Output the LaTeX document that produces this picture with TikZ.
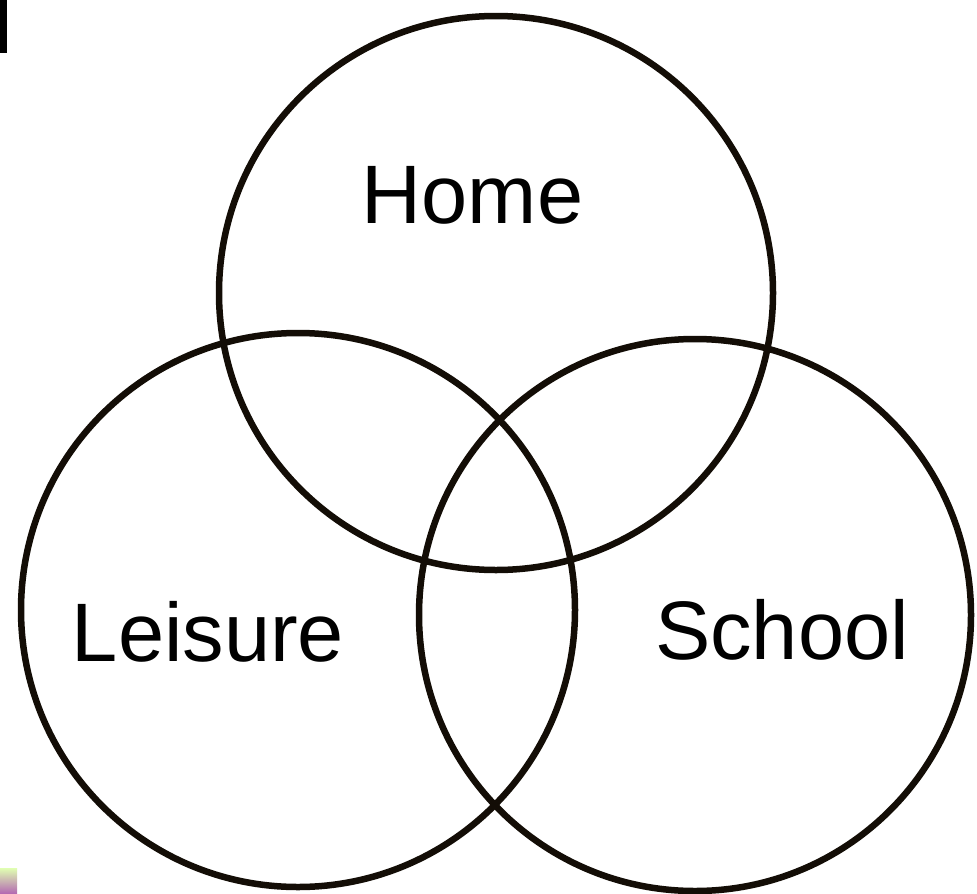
\documentclass[tikz,border=0pt]{standalone}
\usepackage{fontspec}
\setmainfont{Liberation Sans}
\begin{document}
\begin{tikzpicture}[x=1pt,y=-1pt,
  ring/.style={draw=black!90!brown, line width=6.5pt},
  label/.style={font=\fontsize{83}{85}\selectfont, anchor=base, inner sep=0pt}]
\useasboundingbox (0,0) rectangle (977,894);
\fill[white] (0,0) rectangle (977,894);
\draw[ring] (496,293) circle (277);
\draw[ring] (298,610) circle (277);
\draw[ring] (695,615) circle (276);
\node[label] (home) at (472.5,223) {Home};
\node[label] (leisure) at (208,661) {Leisure};
\node[label] (school) at (782,659) {School};
\fill[black] (0,0) rectangle (7,53);
\shade[top color=yellow!60!green!30, bottom color=violet!60] (0,868) rectangle (17,894);
\end{tikzpicture}
\end{document}
